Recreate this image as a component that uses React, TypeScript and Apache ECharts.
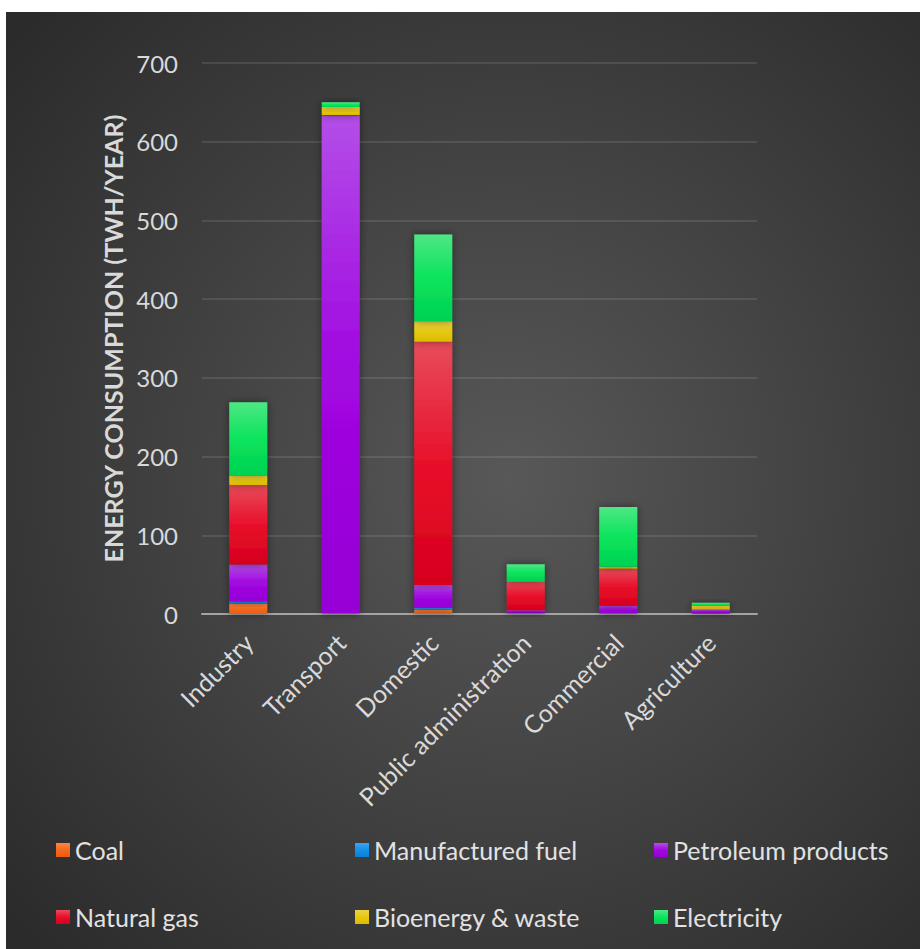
import React, { useEffect, useRef } from "react";
import * as echarts from "echarts";

const categories = ["Industry", "Transport", "Domestic", "Public administration", "Commercial", "Agriculture"];
const coal = [13, 0.5, 5, 0.5, 0.3, 0.3];
const manufacturedFuel = [3, 0.2, 3, 0.3, 0.2, 0];
const petroleum = [47, 633, 29, 4, 10, 5];
const naturalGas = [101, 0.3, 309, 36, 47, 0.5];
const bioenergy = [12, 10, 26, 0.5, 2.5, 5];
const electricity = [93, 6, 110, 22, 76, 3.5];
const yTicks = [0, 100, 200, 300, 400, 500, 600, 700];

const seriesDefs = [
  { name: "Coal", data: coal, c: ["#FF8445", "#F26A1E", "#EE5A0E"] },
  { name: "Manufactured fuel", data: manufacturedFuel, c: ["#3AA4F2", "#1690E6", "#0A7ED6"] },
  { name: "Petroleum products", data: petroleum, c: ["#B34EE8", "#A108E0", "#9600D6"] },
  { name: "Natural gas", data: naturalGas, c: ["#E84C5A", "#E8102A", "#D6001E"] },
  { name: "Bioenergy & waste", data: bioenergy, c: ["#EAD246", "#E6C810", "#DCBC00"] },
  { name: "Electricity", data: electricity, c: ["#4EE784", "#0AE45C", "#02D252"] },
];

const legendPos = [
  { left: 56, top: 837 },
  { left: 355, top: 837 },
  { left: 654, top: 837 },
  { left: 56, top: 904 },
  { left: 355, top: 904 },
  { left: 654, top: 904 },
];

export default function App() {
  const ref = useRef<HTMLDivElement>(null);
  useEffect(() => {
    if (!ref.current) return;
    const chart = echarts.init(ref.current, null, { renderer: "svg" });
    const grad = (c: string[]) =>
      new echarts.graphic.LinearGradient(0, 0, 0, 1, [
        { offset: 0, color: c[0] },
        { offset: 0.5, color: c[1] },
        { offset: 1, color: c[2] },
      ]);
    const option: any = {
      animation: false,
      backgroundColor: "#ffffff",
      textStyle: { fontFamily: "Lato" },
      graphic: [
        {
          type: "rect",
          z: -10,
          silent: true,
          shape: { x: 6, y: 12, width: 914, height: 937 },
          style: {
            fill: {
              type: "radial",
              x: 0.55,
              y: 0.5,
              r: 0.72,
              colorStops: [
                { offset: 0, color: "#585858" },
                { offset: 1, color: "#2b2b2b" },
              ],
            },
          },
        },
      ],
      grid: { left: 202, right: 163, top: 63, bottom: 335, containLabel: false },
      legend: seriesDefs.map((s, i) => ({
        data: [s.name],
        left: legendPos[i].left,
        top: legendPos[i].top,
        padding: 0,
        itemWidth: 14,
        itemHeight: 14,
        itemGap: 0,
        icon: "rect",
        textStyle: { color: "#e2e2e2", fontSize: 25, fontFamily: "Lato", lineHeight: 26, padding: [0, 0, 0, 0] },
      })),
      xAxis: {
        type: "category",
        data: categories,
        axisTick: { show: false },
        axisLine: { show: true, lineStyle: { color: "#a4a4a4", width: 2 } },
        axisLabel: { rotate: 45, color: "#d9d9d9", fontSize: 25, fontFamily: "Lato", margin: 24, interval: 0 },
      },
      yAxis: {
        type: "value",
        min: 0,
        max: 700,
        interval: 100,
        name: "ENERGY CONSUMPTION (TWH/YEAR)",
        nameLocation: "middle",
        nameGap: 76,
        nameTextStyle: { color: "#d9d9d9", fontSize: 25, fontWeight: "bold", fontFamily: "Lato" },
        axisLine: { show: false },
        axisTick: { show: false },
        axisLabel: {
          color: "#d9d9d9",
          fontSize: 24,
          fontFamily: "Lato",
          margin: 24,
          formatter: (v: number) => (yTicks.includes(v) ? String(v) : ""),
        },
        splitLine: { lineStyle: { color: "rgba(255,255,255,0.1)", width: 2 } },
      },
      series: seriesDefs.map((s) => ({
        name: s.name,
        type: "bar",
        stack: "total",
        barWidth: 38,
        data: s.data,
        itemStyle: {
          color: grad(s.c),
          shadowBlur: 8,
          shadowColor: "rgba(0,0,0,0.45)",
        },
        emphasis: { disabled: true },
      })),
    };
    chart.setOption(option);
    return () => chart.dispose();
  }, []);
  return (
    <div
      ref={ref}
      style={{ position: "absolute", left: 0, top: 0, width: 920, height: 949 }}
    />
  );
}
